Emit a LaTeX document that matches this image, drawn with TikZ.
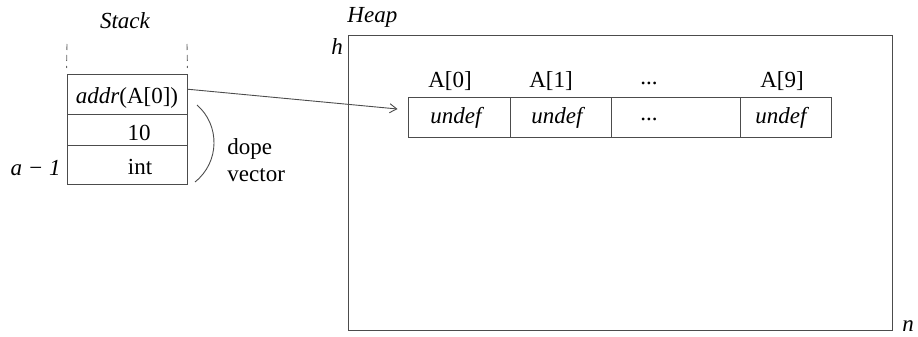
\documentclass[tikz,border=0pt]{standalone}
\usepackage{fontspec}
\setmainfont{Liberation Serif}
\usetikzlibrary{arrows.meta}
\begin{document}
\begin{tikzpicture}[x=1pt,y=-1pt,
  line width=0.9pt,
  frame/.style={draw=black!70, line width=0.9pt},
  cell/.style={frame, rectangle, inner sep=0pt, minimum width=120pt},
  acell/.style={frame, rectangle, inner sep=0pt, minimum height=40pt},
  txt/.style={inner sep=0pt, font=\fontsize{23}{27}\selectfont},
  itxt/.style={txt, font=\fontsize{23}{27}\selectfont\itshape}]
\useasboundingbox (0,0) rectangle (918,337);

% stack frame: three cells of the dope vector
\node[cell, minimum height=40.3pt] (addr) at (127,94.2) {};
\node[cell, minimum height=31.4pt] (len)  at (127,130) {};
\node[cell, minimum height=38.3pt] (typ)  at (127,164.85) {};
\node[txt] (addrtxt) at (127,98) {\textit{addr}(A[0])};
\node[txt] (lentxt) at (139,133) {10};
\node[txt] (typtxt) at (140,167) {int};

% dashed stack borders above
\coordinate (sl) at (67,44);
\coordinate (sr) at (187,44);
\draw[black!60, dashed, dash pattern=on 6pt off 5pt] (sl) -- (addr.north west |- 0,68);
\draw[black!60, dashed, dash pattern=on 6pt off 5pt] (sr) -- (addr.north east |- 0,68);

\node[itxt] (stack) at (125,21) {Stack};
\node[itxt, anchor=east] (lowidx) at (61,168) {a − 1};

% brace-like arc around the dope vector
\coordinate (arcA) at (197,105);
\coordinate (arcB) at (195,182);
\draw[black!70] (arcA) .. controls (220,125) and (220,162) .. (arcB);
\node[txt, anchor=west, align=left] (dope) at (227,160) {dope\\vector};

% heap region
\node[frame, rectangle, inner sep=0pt, minimum width=544pt, minimum height=295pt] (heap) at (620,182.5) {};
\node[itxt, anchor=west] (heaplbl) at (347,17) {Heap};
\node[itxt] (hlbl) at (337,47) {h};
\node[itxt] (nlbl) at (908,326) {n};

% array in the heap
\node[acell, minimum width=102pt] (c0) at (459,117) {};
\node[acell, minimum width=101pt] (c1) at (560.5,117) {};
\node[acell, minimum width=129pt] (c2) at (675.5,117) {};
\node[acell, minimum width=91pt]  (c3) at (785.5,117) {};
\node[itxt] (u0) at (456,118) {undef};
\node[itxt] (u1) at (557,118) {undef};
\node[txt]  (u2) at (649,119) {...};
\node[itxt] (u3) at (781,118) {undef};
\node[txt] (l0) at (450,81) {A[0]};
\node[txt] (l1) at (551,81) {A[1]};
\node[txt] (l2) at (649,83) {...};
\node[txt] (l3) at (782,81) {A[9]};

% pointer from the stack to the first array element
\draw[black!70, -{Straight Barb[length=7pt,width=9pt]}] ([yshift=5pt]addr.east) -- ([xshift=-10pt,yshift=8pt]c0.west);
\end{tikzpicture}
\end{document}
